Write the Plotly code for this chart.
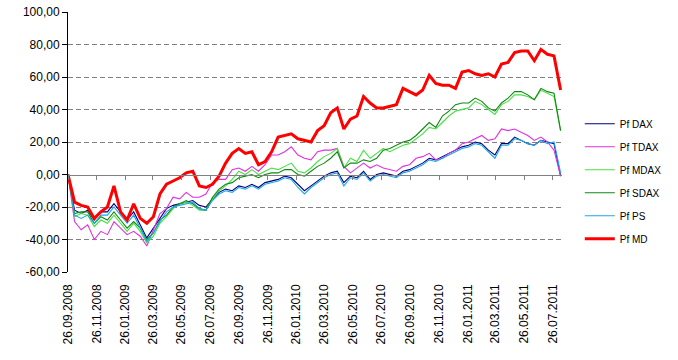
import pandas as pd
import plotly.graph_objects as go

START_DATE = "2008-09-26"
STEP_DAYS = 14
END_RANGE = "2011-08-15"

PF_DAX = [0, -22, -24, -22, -28, -23, -23, -18, -23, -28,
          -23, -31, -39, -33, -27, -21, -19, -18, -17, -16,
          -19, -20, -15, -11, -9, -10, -7, -8, -6, -8,
          -5, -4, -3, -1, -2, -6, -10, -7, -4, -1,
          1, 2, -5, -1, -2, 2, -3, 0, 1, 0,
          -1, 2, 3, 5, 7, 10, 9, 11, 13, 15,
          17, 18, 20, 19, 15, 12, 19, 19, 23, 21,
          19, 18, 21, 20, 19, -1]

PF_TDAX = [0, -29, -34, -31, -40, -35, -37, -29, -33, -37,
           -35, -38, -44, -34, -24, -21, -14, -15, -11, -14,
           -14, -12, -5, -3, -3, 3, 4, 2, 5, 2,
           6, 12, 12, 14, 17, 12, 10, 9, 14, 15,
           15, 16, 5, 1, 4, 7, 4, 6, 4, 3,
           2, 5, 6, 10, 11, 13, 9, 10, 13, 15,
           19, 20, 22, 24, 21, 22, 28, 27, 28, 26,
           24, 21, 23, 20, 15, -1]

PF_MDAX = [0, -26, -24, -25, -32, -28, -30, -25, -30, -35,
           -30, -35, -42, -38, -30, -26, -21, -18, -17, -19,
           -22, -22, -15, -10, -7, -3, 2, 0, 3, 0,
           2, 4, 3, 5, 7, 2, 1, 4, 8, 11,
           13, 16, 4, 10, 8, 15, 10, 13, 16, 14,
           16, 18, 19, 22, 25, 29, 28, 32, 36, 39,
           40, 41, 45, 43, 40, 37, 43, 45, 49, 49,
           48, 46, 52, 50, 48, 27]

PF_SDAX = [0, -24, -23, -23, -30, -26, -28, -23, -28, -33,
           -29, -33, -40, -36, -28, -25, -20, -18, -16, -18,
           -21, -22, -14, -9, -6, -5, -2, -1, 0, -2,
           0, 1, 1, 3, 3, 0, -1, 2, 5, 7,
           10, 14, 4, 7, 7, 9, 8, 10, 15, 16,
           18, 20, 21, 24, 28, 32, 29, 36, 39, 43,
           44, 44, 47, 45, 41, 39, 44, 47, 51, 51,
           49, 46, 53, 51, 50, 27]

PF_PS = [0, -25, -27, -25, -30, -25, -25, -20, -25, -30,
         -25, -33, -41, -36, -29, -23, -20, -19, -18, -17,
         -21, -22, -16, -12, -10, -11, -8, -9, -7, -9,
         -6, -5, -4, -2, -3, -8, -12, -8, -5, -2,
         0, 1, -7, -2, -3, 1, -4, -1, 0, -1,
         -2, 1, 2, 4, 6, 9, 8, 10, 12, 14,
         16, 17, 19, 18, 14, 10, 18, 18, 22, 21,
         19, 18, 21, 19, 20, 1]

PF_MD = [0, -17, -19, -20, -27, -23, -20, -7, -23, -28,
         -18, -27, -30, -26, -12, -6, -4, -2, 1, 2,
         -7, -8, -6, -1, 7, 13, 16, 13, 14, 6,
         8, 14, 23, 24, 25, 22, 21, 20, 27, 30,
         38, 41, 28, 34, 36, 48, 44, 41, 41, 42,
         43, 53, 51, 49, 52, 61, 56, 55, 55, 53,
         63, 64, 62, 61, 62, 60, 68, 69, 75, 76,
         76, 70, 77, 74, 73, 52]

SERIES_NAMES = ["Pf DAX", "Pf TDAX", "Pf MDAX", "Pf SDAX", "Pf PS", "Pf MD"]

X_TICK_LABELS = ["26.09.2008", "26.11.2008", "26.01.2009", "26.03.2009",
                 "26.05.2009", "26.07.2009", "26.09.2009", "26.11.2009",
                 "26.01.2010", "26.03.2010", "26.05.2010", "26.07.2010",
                 "26.09.2010", "26.11.2010", "26.01.2011", "26.03.2011",
                 "26.05.2011", "26.07.2011"]

Y_TICK_VALUES = [-60, -40, -20, 0, 20, 40, 60, 80, 100]
Y_TICK_LABELS = ["-60,00", "-40,00", "-20,00", "0,00", "20,00",
                 "40,00", "60,00", "80,00", "100,00"]
Y_GRID_VALUES = [-40, -20, 20, 40, 60, 80]

# ---- figure ----
dates = pd.date_range(START_DATE, periods=len(PF_MD), freq=f"{STEP_DAYS}D")
x_tick_dates = [pd.to_datetime(t, format="%d.%m.%Y") for t in X_TICK_LABELS]

styles = [
    ("#000080", 1.1),
    ("#E030E0", 1.1),
    ("#44E044", 1.1),
    ("#108A10", 1.1),
    ("#1AA8E8", 1.1),
    ("#FF0000", 3),
]
values = [PF_DAX, PF_TDAX, PF_MDAX, PF_SDAX, PF_PS, PF_MD]

fig = go.Figure()
# invisible helper trace that activates the overlay axes (zero line + dashed grid)
fig.add_trace(go.Scatter(
    x=dates, y=PF_MD, xaxis="x2", yaxis="y2", mode="lines",
    line=dict(width=0), opacity=0, showlegend=False, hoverinfo="skip",
))
for name, vals, (color, width) in zip(SERIES_NAMES, values, styles):
    fig.add_trace(go.Scatter(
        x=dates, y=vals, mode="lines", name=name, legendgroup=name,
        line=dict(color=color, width=width),
    ))

fig.update_layout(
    width=678, height=360,
    margin=dict(l=68, r=116, t=5, b=88),
    paper_bgcolor="white", plot_bgcolor="white",
    font=dict(family="Liberation Sans, Arial, sans-serif", color="#000000", size=12),
    showlegend=True,
    legend=dict(
        x=1.036, y=0.626, xanchor="left", yanchor="top",
        font=dict(size=10), traceorder="grouped", tracegroupgap=4,
        bgcolor="rgba(0,0,0,0)",
    ),
    xaxis=dict(
        type="date", range=[START_DATE, END_RANGE],
        tickvals=x_tick_dates, ticktext=X_TICK_LABELS, tickangle=-90,
        showgrid=False, showline=False, zeroline=False, ticks="",
        tickfont=dict(size=12), ticklabelstandoff=9,
    ),
    xaxis2=dict(
        overlaying="x", matches="x", anchor="free", position=0.375,
        showline=True, linecolor="#808080", linewidth=1,
        ticks="outside", ticklen=4, tickcolor="#808080",
        tickvals=x_tick_dates, showticklabels=False,
        showgrid=False, zeroline=False,
    ),
    yaxis=dict(
        range=[-60, 100], tickvals=Y_TICK_VALUES, ticktext=Y_TICK_LABELS,
        showline=True, linecolor="#000000", linewidth=1,
        ticks="outside", ticklen=5, tickcolor="#000000",
        showgrid=False, zeroline=False, tickfont=dict(size=12),
        ticklabeloverflow="allow",
    ),
    yaxis2=dict(
        overlaying="y", matches="y", anchor="x2",
        tickvals=Y_GRID_VALUES, showticklabels=False, ticks="",
        showgrid=True, gridcolor="#808080", griddash="5px,3px", gridwidth=1,
        showline=False, zeroline=False,
    ),
)

fig.write_html(
    "out.html",
    config={"displayModeBar": False},
    post_script="document.body.style.margin='0';document.body.style.overflow='hidden';",
)
